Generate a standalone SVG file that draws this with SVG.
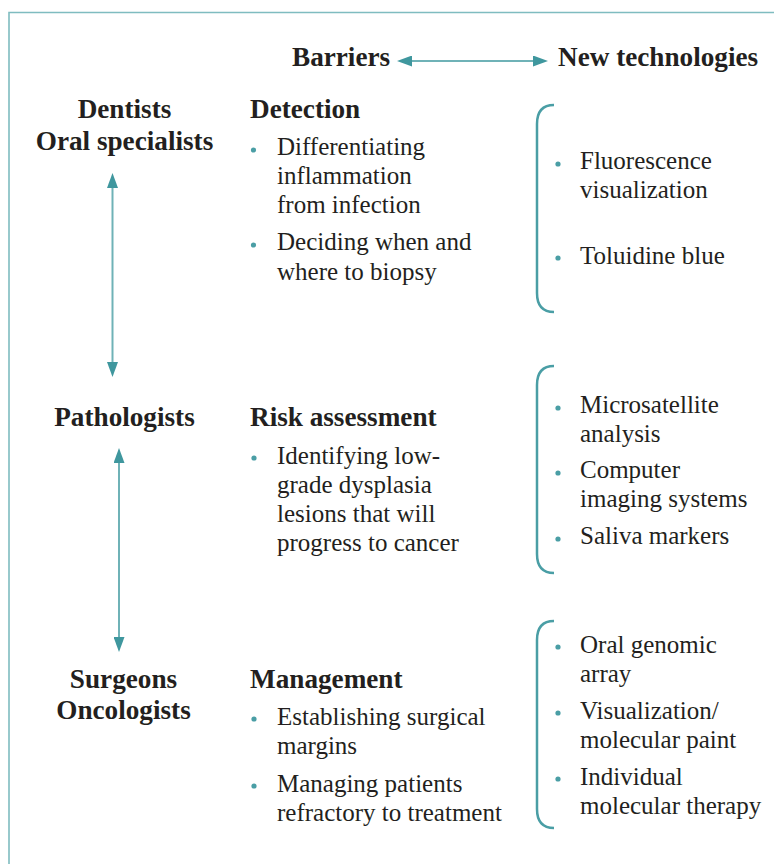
<svg xmlns="http://www.w3.org/2000/svg" width="774" height="864" viewBox="0 0 774 864">
<style>
text{font-family:"Liberation Serif","Times New Roman",serif;fill:#231f20}
.h{font-weight:bold;font-size:27.2px}
.c{text-anchor:middle}
.t{font-size:25px}
.b{fill:#4a9ea5}
.br{fill:none;stroke:#4a9ea5;stroke-width:2.5}
.ar{stroke:#6fb2b7;stroke-width:2;fill:none}
</style>
<defs>
<marker id="ah" viewBox="0 0 15 11" refX="10" refY="5.5" markerWidth="15" markerHeight="11" markerUnits="userSpaceOnUse" orient="auto-start-reverse">
<path d="M0,0 L15,5.5 L0,11 z" fill="#3f979e"/>
</marker>
</defs>
<rect width="774" height="864" fill="#ffffff"/>
<path d="M9,864 V12.5 H774" fill="none" stroke="#7fbcc0" stroke-width="1.6"/>

<g id="header">
<text class="h" x="292" y="66">Barriers</text>
<text class="h" x="558" y="66">New technologies</text>
</g>

<g id="connectors">
<line class="ar" x1="402" y1="61" x2="543" y2="61" marker-start="url(#ah)" marker-end="url(#ah)"/>
<line class="ar" x1="112.5" y1="178" x2="112.5" y2="372" marker-start="url(#ah)" marker-end="url(#ah)"/>
<line class="ar" x1="119" y1="453" x2="119" y2="647" marker-start="url(#ah)" marker-end="url(#ah)"/>
</g>

<g id="dentists">
<text class="h c" x="124.5" y="118">Dentists</text>
<text class="h c" x="124.5" y="150">Oral specialists</text>
</g>
<g id="pathologists">
<text class="h c" x="124.5" y="426">Pathologists</text>
</g>
<g id="surgeons">
<text class="h c" x="123.5" y="688">Surgeons</text>
<text class="h c" x="123.5" y="719">Oncologists</text>
</g>

<g id="detection">
<text class="h" x="250" y="118">Detection</text>
<circle class="b" cx="253.5" cy="150" r="2.6"/>
<text class="t" x="277" y="155">Differentiating</text>
<text class="t" x="277" y="184">inflammation</text>
<text class="t" x="277" y="213">from infection</text>
<circle class="b" cx="253.5" cy="245" r="2.6"/>
<text class="t" x="277" y="250">Deciding when and</text>
<text class="t" x="277" y="280">where to biopsy</text>
</g>

<g id="risk">
<text class="h" x="250" y="426">Risk assessment</text>
<circle class="b" cx="254" cy="458" r="2.6"/>
<text class="t" x="277" y="464">Identifying low-</text>
<text class="t" x="277" y="493">grade dysplasia</text>
<text class="t" x="277" y="522">lesions that will</text>
<text class="t" x="277" y="551">progress to cancer</text>
</g>

<g id="management">
<text class="h" x="250" y="688">Management</text>
<circle class="b" cx="254" cy="719" r="2.6"/>
<text class="t" x="277" y="725">Establishing surgical</text>
<text class="t" x="277" y="754">margins</text>
<circle class="b" cx="254" cy="786" r="2.6"/>
<text class="t" x="277" y="792">Managing patients</text>
<text class="t" x="277" y="821">refractory to treatment</text>
</g>

<g id="tech-detection">
<path class="br" d="M554,105 C542,105 537,112 537,124 V293 C537,305 542,312 554,312"/>
<circle class="b" cx="558" cy="164" r="2.6"/>
<text class="t" x="580" y="169">Fluorescence</text>
<text class="t" x="580" y="198">visualization</text>
<circle class="b" cx="558" cy="258" r="2.6"/>
<text class="t" x="580" y="264">Toluidine blue</text>
</g>

<g id="tech-risk">
<path class="br" d="M554,366 C542,366 537,373 537,385 V554 C537,566 542,573 554,573"/>
<circle class="b" cx="558" cy="408" r="2.6"/>
<text class="t" x="580" y="413">Microsatellite</text>
<text class="t" x="580" y="442">analysis</text>
<circle class="b" cx="558" cy="473" r="2.6"/>
<text class="t" x="580" y="478">Computer</text>
<text class="t" x="580" y="507">imaging systems</text>
<circle class="b" cx="558" cy="539" r="2.6"/>
<text class="t" x="580" y="544">Saliva markers</text>
</g>

<g id="tech-management">
<path class="br" d="M554,621 C542,621 537,628 537,640 V809 C537,821 542,828 554,828"/>
<circle class="b" cx="558" cy="647" r="2.6"/>
<text class="t" x="580" y="653">Oral genomic</text>
<text class="t" x="580" y="682">array</text>
<circle class="b" cx="558" cy="713" r="2.6"/>
<text class="t" x="580" y="719">Visualization/</text>
<text class="t" x="580" y="748">molecular paint</text>
<circle class="b" cx="558" cy="779" r="2.6"/>
<text class="t" x="580" y="785">Individual</text>
<text class="t" x="580" y="814">molecular therapy</text>
</g>
</svg>
